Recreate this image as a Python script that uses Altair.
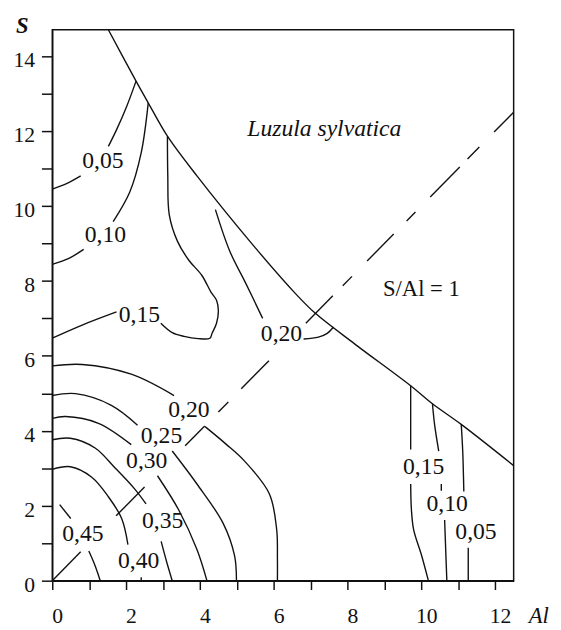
import altair as alt
import pandas as pd

INK = "#111111"
FONT = "Liberation Serif"
AL_MAX = 12.5
S_MAX = 14.7

# axis ticks
x_ticks = list(range(0, 13))
y_ticks = list(range(0, 15))

# solid boundary of the data region
boundary = [(1.52, 14.7), (2.27, 13.33), (2.6, 12.75), (3.12, 11.86), (3.92, 10.8),
            (5.4, 9.0), (6.59, 7.66), (7.12, 7.14), (8.19, 6.32), (9.71, 5.2),
            (10.3, 4.72), (11.08, 4.17), (12.5, 3.07)]

# contour pieces (Al, S); gaps are where the labels sit
c005_left_a = [(0, 10.45), (0.4, 10.6), (0.77, 10.8)]
c005_left_b = [(1.52, 11.59), (1.74, 12.03), (2.01, 12.64), (2.27, 13.33)]
c010_left_a = [(0, 8.44), (0.45, 8.6), (0.85, 8.84)]
c010_left_b = [(1.65, 9.58), (2.1, 10.37), (2.41, 11.42), (2.6, 12.75)]
c015_left_a = [(0, 6.47), (0.81, 6.82), (1.74, 7.17)]
c015_left_b = [(2.94, 6.87), (3.25, 6.62), (3.57, 6.52), (3.95, 6.46), (4.27, 6.47),
               (4.33, 6.6), (4.45, 6.87), (4.5, 7.2), (4.45, 7.48), (4.3, 7.7),
               (4.05, 8.15), (3.7, 8.55), (3.39, 9.06), (3.17, 9.76), (3.13, 10.8),
               (3.12, 11.86)]
c020_up_a = [(4.42, 9.9), (4.81, 8.79), (5.25, 7.92), (5.7, 7.0)]
c020_up_b = [(6.81, 6.45), (7.21, 6.5), (7.45, 6.6), (7.62, 6.77)]
c020_low_a = [(0, 5.73), (0.81, 5.77), (2.14, 5.51), (3.3, 4.94)]
c020_low_b = [(4.14, 4.11), (4.7, 3.65), (5.21, 3.19), (5.88, 2.32), (6.08, 1.36),
              (6.1, 0.6), (6.1, 0)]
c025_a = [(0, 4.94), (0.63, 4.99), (1.6, 4.68), (2.31, 4.15)]
c025_b = [(3.25, 3.46), (3.92, 2.58), (4.63, 1.53), (4.94, 0.66), (4.99, 0)]
c030_a = [(0, 4.33), (0.36, 4.38), (1.25, 4.2), (2.14, 3.63)]
c030_b = [(2.85, 2.8), (3.43, 1.88), (3.92, 0.83), (4.19, 0)]
c035_a = [(0, 3.76), (0.49, 3.8), (1.16, 3.54), (1.69, 3.02), (2.23, 2.45), (2.54, 2.05)]
c035_b = [(2.95, 1.05), (3.1, 0.5), (3.25, 0)]
c040_a = [(0, 2.97), (0.49, 3.04), (1.07, 2.76), (1.52, 2.24), (1.88, 1.66), (2.05, 0.96)]
c040_b = [(2.41, 0.09), (2.41, 0)]
c045_a = [(0.2, 2.03), (0.5, 1.66)]
c045_b = [(0.99, 0.79), (1.16, 0.4), (1.3, 0)]
c015_right_a = [(9.71, 5.2), (9.71, 4.3), (9.71, 3.5)]
c015_right_b = [(9.71, 2.58), (9.73, 1.9), (9.79, 1.36), (10.01, 0.66), (10.19, 0)]
c010_right_a = [(10.3, 4.72), (10.36, 4.15), (10.47, 3.46)]
c010_right_stub = [(10.54, 2.58), (10.54, 2.4)]
c010_right_b = [(10.63, 1.62), (10.66, 0.8), (10.69, 0)]
c005_right_a = [(11.08, 4.17), (11.12, 3.46), (11.15, 2.38)]
c005_right_b = [(11.27, 0.88), (11.27, 0)]

# dashed S/Al = 1 line: visible dash pieces (Al from, Al to), S = Al
dash_start = [0.0, 1.73, 3.6, 4.5, 5.12, 6.87, 7.87, 8.53, 9.6, 10.24, 11.25, 11.97]
dash_end = [0.77, 2.5, 4.13, 4.77, 5.87, 7.6, 8.12, 9.25, 9.84, 11.04, 11.57, 12.5]

# contour labels
label_text = ["0,05", "0,10", "0,15", "0,20", "0,20", "0,25", "0,30", "0,35",
              "0,40", "0,45", "0,15", "0,10", "0,05"]
label_al = [1.37, 1.44, 2.36, 6.21, 3.7, 2.96, 2.56, 2.99, 2.34, 0.83, 10.06, 10.7, 11.48]
label_s = [11.2, 9.21, 7.09, 6.58, 4.55, 3.85, 3.19, 1.6, 0.53, 1.25, 3.02, 2.03, 1.29]

# annotations
note_text = ["Luzula sylvatica", "S/Al = 1"]
note_al = [7.37, 10.0]
note_s = [12.05, 7.77]
note_style = ["italic", "normal"]

pieces = {
    "boundary": boundary,
    "c005la": c005_left_a, "c005lb": c005_left_b,
    "c010la": c010_left_a, "c010lb": c010_left_b,
    "c015la": c015_left_a, "c015lb": c015_left_b,
    "c020ua": c020_up_a, "c020ub": c020_up_b,
    "c020la": c020_low_a, "c020lb": c020_low_b,
    "c025a": c025_a, "c025b": c025_b,
    "c030a": c030_a, "c030b": c030_b,
    "c035a": c035_a, "c035b": c035_b,
    "c040a": c040_a, "c040b": c040_b,
    "c045a": c045_a, "c045b": c045_b,
    "c015ra": c015_right_a, "c015rb": c015_right_b,
    "c010ra": c010_right_a, "c010rs": c010_right_stub, "c010rb": c010_right_b,
    "c005ra": c005_right_a, "c005rb": c005_right_b,
}
rows = []
for name, pts in pieces.items():
    for i, (a, s) in enumerate(pts):
        rows.append({"seg": name, "idx": i, "al": a, "s": s})
lines_df = pd.DataFrame(rows)

dash_rows = []
for k, (a0, a1) in enumerate(zip(dash_start, dash_end)):
    dash_rows.append({"seg": f"d{k}", "idx": 0, "al": a0, "s": a0})
    dash_rows.append({"seg": f"d{k}", "idx": 1, "al": a1, "s": a1})
dash_df = pd.DataFrame(dash_rows)

labels_df = pd.DataFrame({"txt": label_text, "al": label_al, "s": label_s})
notes_df = pd.DataFrame({"txt": note_text, "al": note_al, "s": note_s, "st": note_style})

x_axis = alt.Axis(
    values=x_ticks, labelExpr="datum.value % 2 == 0 ? datum.label : ''",
    grid=False, tickSize=9, tickWidth=1.5, tickColor=INK, domainColor=INK, domainWidth=1.5,
    labelFont=FONT, labelFontSize=22, labelColor=INK, labelPadding=34,
    labelBaseline="alphabetic", labelOffset=5, labelFlush=False,
    title="Al", titleFont=FONT, titleFontSize=23, titleFontStyle="italic",
    titleFontWeight="normal", titleColor=INK, titleX=494, titleY=43,
    titleAlign="center", titleBaseline="alphabetic",
)
y_axis = alt.Axis(
    values=y_ticks, labelExpr="datum.value % 2 == 0 ? datum.label : ''",
    grid=False, tickSize=11, tickWidth=1.5, tickColor=INK, domainColor=INK, domainWidth=1.5,
    labelFont=FONT, labelFontSize=22, labelColor=INK, labelPadding=7,
    labelAlign="right", labelBaseline="middle", labelOffset=4, labelFlush=False,
    title="S", titleFont=FONT, titleFontSize=23, titleFontStyle="italic",
    titleFontWeight="bold", titleColor=INK, titleAngle=0, titleX=-31, titleY=3,
    titleAlign="center", titleBaseline="alphabetic",
)
x_enc = alt.X("al:Q", scale=alt.Scale(domain=[0, AL_MAX], nice=False, zero=False), axis=x_axis)
y_enc = alt.Y("s:Q", scale=alt.Scale(domain=[0, S_MAX], nice=False, zero=False), axis=y_axis)

contours = alt.Chart(lines_df).mark_line(
    color=INK, strokeWidth=1.4, interpolate="catmull-rom"
).encode(x=x_enc, y=y_enc, detail="seg:N", order="idx:Q")

dashes = alt.Chart(dash_df).mark_line(color=INK, strokeWidth=1.4).encode(
    x=x_enc, y=y_enc, detail="seg:N", order="idx:Q"
)

labels = alt.Chart(labels_df).mark_text(
    font=FONT, fontSize=24, color=INK, align="center", baseline="middle"
).encode(x=x_enc, y=y_enc, text="txt:N")

notes_it = alt.Chart(notes_df[notes_df.st == "italic"]).mark_text(
    font=FONT, fontSize=24, fontStyle="italic", color=INK, align="center", baseline="middle"
).encode(x=x_enc, y=y_enc, text="txt:N")

notes_rm = alt.Chart(notes_df[notes_df.st == "normal"]).mark_text(
    font=FONT, fontSize=23, color=INK, align="center", baseline="middle"
).encode(x=x_enc, y=y_enc, text="txt:N")

chart = alt.layer(contours, dashes, labels, notes_it, notes_rm).properties(
    width=469, height=560,
    padding={"left": 45, "top": 17, "right": 40, "bottom": 45},
    autosize=alt.AutoSizeParams(type="none"),
    background="white",
).configure_view(stroke=INK, strokeWidth=1.5)

chart.save("out.html", embed_options={"renderer": "svg", "actions": False})
